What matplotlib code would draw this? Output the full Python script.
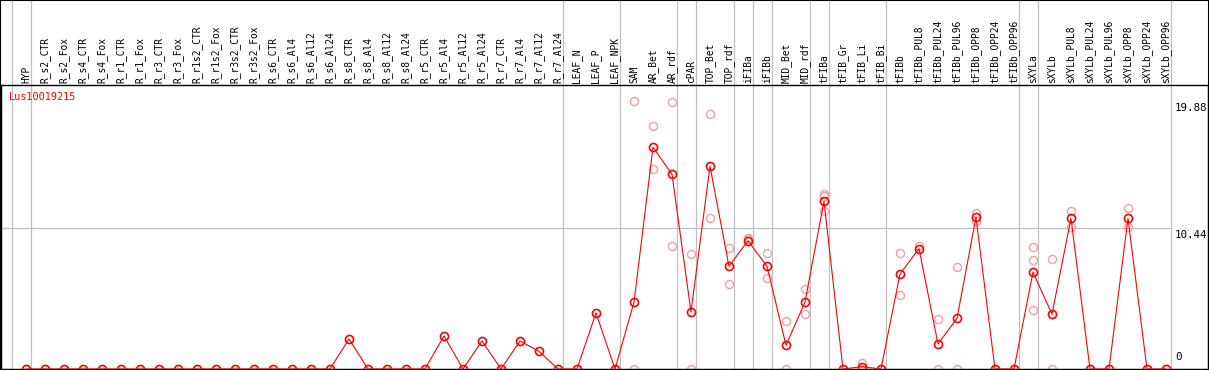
import numpy as np
from matplotlib import pyplot as plt
from matplotlib.patches import Rectangle
from matplotlib.transforms import blended_transform_factory

labels = ['HYP',
          'R_s2_CTR', 'R_s2_Fox', 'R_s4_CTR', 'R_s4_Fox', 'R_r1_CTR', 'R_r1_Fox',
          'R_r3_CTR', 'R_r3_Fox', 'R_r1s2_CTR', 'R_r1s2_Fox', 'R_r3s2_CTR', 'R_r3s2_Fox',
          'R_s6_CTR', 'R_s6_Al4', 'R_s6_Al12', 'R_s6_Al24', 'R_s8_CTR', 'R_s8_Al4',
          'R_s8_Al12', 'R_s8_Al24', 'R_r5_CTR', 'R_r5_Al4', 'R_r5_Al12', 'R_r5_Al24',
          'R_r7_CTR', 'R_r7_Al4', 'R_r7_Al12', 'R_r7_Al24',
          'LEAF_N', 'LEAF_P', 'LEAF_NPK',
          'SAM', 'AR_Bet', 'AR_rdf', 'cPAR', 'TOP_Bet', 'TOP_rdf', 'iFIBa', 'iFIBb',
          'MID_Bet', 'MID_rdf', 'tFIBa', 'tFIB_Gr', 'tFIB_Li', 'tFIB_Bi', 'tFIBb',
          'tFIBb_PUL8', 'tFIBb_PUL24', 'tFIBb_PUL96', 'tFIBb_OPP8', 'tFIBb_OPP24', 'tFIBb_OPP96',
          'sXYLa', 'sXYLb', 'sXYLb_PUL8', 'sXYLb_PUL24', 'sXYLb_PUL96',
          'sXYLb_OPP8', 'sXYLb_OPP24', 'sXYLb_OPP96']

# mean expression per sample (zero where not given)
mean_vals = {17: 2.23, 22: 2.45, 24: 2.08, 26: 2.08, 27: 1.31, 30: 4.16,
             32: 4.95, 33: 16.45, 34: 14.45, 35: 4.23, 36: 15.04, 37: 7.62,
             38: 9.52, 39: 7.62, 40: 1.76, 41: 4.97, 42: 12.44, 44: 0.17,
             46: 7.05, 47: 8.93, 48: 1.86, 49: 3.76, 50: 11.26, 53: 7.18,
             54: 4.06, 55: 11.18, 58: 11.18}
means = [mean_vals.get(i, 0.0) for i in range(len(labels))]

# replicate values
rep_idx = [32, 32, 33, 33, 34, 34, 35, 35, 36, 36, 37, 37, 38, 38, 39, 39,
           40, 40, 41, 41, 42, 42, 42, 44, 44, 46, 46, 47, 48, 48, 49, 49,
           50, 50, 53, 53, 53, 54, 54, 55, 55, 58, 58]
rep_val = [19.88, 0, 18.03, 14.86, 19.79, 9.10, 8.53, 0, 18.92, 11.18, 8.96, 6.28,
           9.74, 9.65, 8.61, 6.73, 3.56, 0, 5.91, 4.08, 12.99, 12.84, 11.72, 0.47, 0,
           8.61, 5.49, 9.10, 3.73, 0, 7.55, 0, 11.58, 11.0, 9.03, 8.07, 4.36,
           8.14, 0, 11.70, 10.56, 11.92, 10.56]

# groups end after these sample indices
group_ends = [-1, 0, 28, 31, 34, 35, 37, 38, 39, 41, 42, 45, 52, 53, 60]
ticks = [0, 10.44, 19.88]

W, H = 1209, 370
fig = plt.figure(figsize=(W / 100, H / 100), dpi=100)
top_px, bot_px = 85, 369
ax = fig.add_axes([1 / W, (H - bot_px) / H, 1207 / W, (bot_px - top_px) / H])
x = np.arange(len(labels))
ax.set_xlim((1 - 26) / 19, (1208 - 26) / 19)
ax.set_ylim(0, 10.44 * (bot_px - top_px) / (bot_px - 228.3))
ax.set_xticks([])
ax.set_yticks([])
for s in ax.spines.values():
    s.set_color('black')
    s.set_linewidth(1.0)

hdr = 1 + top_px / (bot_px - top_px)
for g in group_ends:
    ax.axvline(g + 0.25, 0, hdr, color='#c0c0c0', lw=0.9, clip_on=False, zorder=1)
ax.hlines(10.44, ax.get_xlim()[0], 60.25, color='#c0c0c0', lw=0.9, zorder=1)

ax.plot(rep_idx, rep_val, 'o', ms=5.8, mfc='none', mec='#f0a0a0', mew=1.0, zorder=2,
        clip_on=False)
ax.plot(x, means, '-', color='red', lw=0.8, zorder=3)
ax.plot(x, means, 'o', ms=5.8, mfc='none', mec='red', mew=1.2, zorder=4, clip_on=False)

trans = blended_transform_factory(ax.transData, ax.transAxes)
for i, lab in enumerate(labels):
    ax.text(i, 1.008, lab, rotation=90, ha='center', va='bottom', transform=trans,
            family='DejaVu Sans Mono', fontsize=6.9, clip_on=False)

fig.text(9 / W, 1 - 97 / H, 'Lus10019215', color='red', va='center', ha='left',
         family='DejaVu Sans Mono', fontsize=7.4)

for t in ticks:
    ax.text(60.47, t + (0.5 if t == 0 else -0.15), f'{t:g}', ha='left',
            va='bottom' if t == 0 else 'top', family='DejaVu Sans Mono', fontsize=7.8)

fig.patches.append(Rectangle((0, 0), 1, 1, transform=fig.transFigure, fill=False,
                             edgecolor='black', lw=1.5))

plt.savefig('out.png', dpi=100)
